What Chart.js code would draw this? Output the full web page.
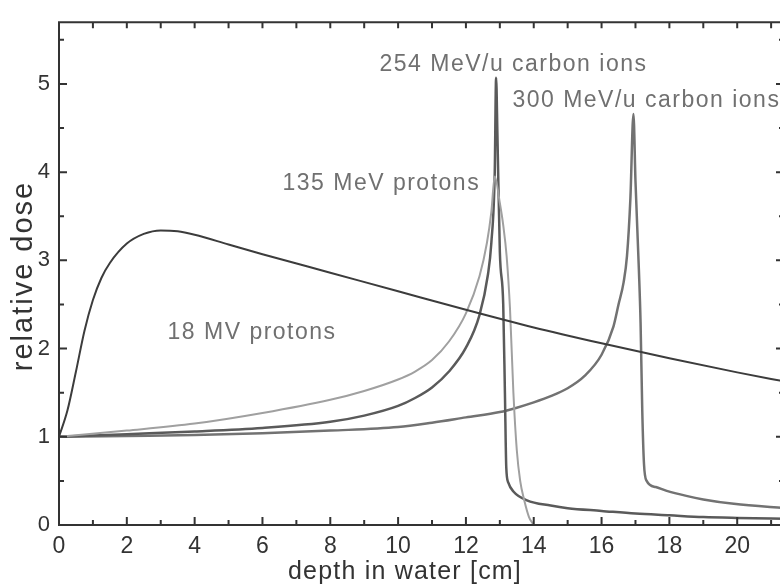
<!DOCTYPE html>
<html>
<head>
<meta charset="utf-8">
<script src="https://cdn.jsdelivr.net/npm/chart.js@4.4.1/dist/chart.umd.min.js"></script>
<style>
  html, body { margin: 0; padding: 0; background: #fff; overflow: hidden; }
  canvas { display: block; }
</style>
</head>
<body>
<canvas id="doseChart" width="786" height="587"></canvas>
<script>
// Profundidad (cm) y dosis relativa
const depthPhoton = [0, 0.25, 0.5, 0.75, 1, 1.25, 1.5, 2, 2.5, 3, 3.5, 4, 5, 6, 8, 10, 12, 14, 16, 18, 20, 21.5];
const dosePhoton  = [1.0, 1.3, 1.74, 2.2, 2.55, 2.8, 2.97, 3.19, 3.3, 3.34, 3.33, 3.29, 3.18, 3.07, 2.86, 2.65, 2.44, 2.24, 2.06, 1.89, 1.73, 1.62];

const depthProton = [0, 2, 4, 6, 8, 9, 10, 10.5, 11, 11.5, 12, 12.4, 12.62, 12.75, 12.85, 13.0, 13.1, 13.2, 13.3, 13.4, 13.5, 13.6, 13.72, 13.86, 14.0];
const doseProton  = [1.0, 1.07, 1.15, 1.27, 1.42, 1.52, 1.65, 1.74, 1.87, 2.08, 2.40, 2.82, 3.2, 3.55, 3.95, 3.65, 3.4, 3.05, 2.45, 1.5, 0.85, 0.5, 0.28, 0.09, 0.0];

const depthC254 = [0, 2, 4, 6, 8, 9, 10, 10.5, 11, 11.5, 12, 12.4, 12.65, 12.75, 12.85, 12.89, 12.93, 13.0, 13.1, 13.15, 13.19, 13.25, 13.4, 13.8, 14.5, 15, 16, 17, 18, 19, 20, 21.5];
const doseC254  = [1.0, 1.03, 1.06, 1.10, 1.17, 1.24, 1.35, 1.44, 1.56, 1.74, 2.01, 2.38, 2.84, 3.2, 4.0, 5.07, 4.4, 3.1, 2.5, 1.5, 0.65, 0.48, 0.38, 0.28, 0.22, 0.19, 0.16, 0.13, 0.11, 0.09, 0.08, 0.07];

const depthC300 = [0, 2, 4, 6, 8, 10, 11, 12, 13, 13.5, 14, 14.5, 15, 15.5, 16, 16.35, 16.5, 16.65, 16.75, 16.85, 16.94, 17.0, 17.1, 17.15, 17.2, 17.25, 17.33, 17.6, 17.9, 18.5, 19, 19.9, 21.5];
const doseC300  = [1.0, 1.01, 1.02, 1.04, 1.07, 1.11, 1.16, 1.22, 1.28, 1.33, 1.39, 1.46, 1.55, 1.69, 1.93, 2.25, 2.5, 2.75, 3.05, 3.7, 4.66, 3.9, 2.9, 2.3, 1.3, 0.7, 0.5, 0.43, 0.39, 0.33, 0.29, 0.24, 0.19];

const seriesNames = ['18 MV protons', '135 MeV protons', '254 MeV/u carbon ions', '300 MeV/u carbon ions'];

// Ticks de los ejes
const xTickValues = [0, 2, 4, 6, 8, 10, 12, 14, 16, 18, 20];
const yTickValues = [0, 1, 2, 3, 4, 5];
const xTitle = 'depth in water [cm]';
const yTitle = 'relative dose';

// Etiquetas de las curvas (posicion en unidades de datos)
const curveLabels = [
  { text: '254 MeV/u carbon ions', x: 9.45, y: 5.22 },
  { text: '300 MeV/u carbon ions', x: 13.37, y: 4.81 },
  { text: '135 MeV protons', x: 6.59, y: 3.87 },
  { text: '18 MV protons', x: 3.2, y: 2.18 }
];

const FONT = '"Liberation Sans", Arial, Helvetica, sans-serif';

function toPoints(xs, ys) {
  return xs.map((x, i) => ({ x: x, y: ys[i] }));
}

// Marco completo y marcas hacia adentro
const frameTicks = {
  id: 'frameTicks',
  afterDatasetsDraw(chart) {
    const { ctx, chartArea: a, scales: { x, y } } = chart;
    ctx.save();
    ctx.strokeStyle = '#333';
    ctx.lineWidth = 2;
    ctx.beginPath();
    ctx.moveTo(a.left, a.top);
    ctx.lineTo(a.right, a.top);
    ctx.lineTo(a.right, a.bottom);
    ctx.lineTo(a.left, a.bottom);
    ctx.closePath();
    for (let v = 0; v <= x.max; v++) {
      const px = x.getPixelForValue(v);
      const len = v % 2 === 0 ? 8 : 5;
      ctx.moveTo(px, a.bottom);
      ctx.lineTo(px, a.bottom - len);
      ctx.moveTo(px, a.top);
      ctx.lineTo(px, a.top + 6);
    }
    for (let v = 0; v <= y.max; v += 0.5) {
      const py = y.getPixelForValue(v);
      const len = Number.isInteger(v) ? 8 : 5;
      ctx.moveTo(a.left, py);
      ctx.lineTo(a.left + len, py);
      ctx.moveTo(a.right, py);
      ctx.lineTo(a.right - len, py);
    }
    ctx.stroke();
    ctx.restore();
  }
};

// Textos de las curvas y titulos de los ejes
const textLayer = {
  id: 'textLayer',
  afterDatasetsDraw(chart) {
    const { ctx, scales: { x, y } } = chart;
    ctx.save();
    ctx.font = '23px ' + FONT;
    ctx.fillStyle = '#707070';
    ctx.textAlign = 'left';
    ctx.textBaseline = 'middle';
    ctx.letterSpacing = '1.5px';
    curveLabels.forEach(l => {
      ctx.fillText(l.text, x.getPixelForValue(l.x), y.getPixelForValue(l.y));
    });

    ctx.fillStyle = '#333';
    ctx.textAlign = 'center';
    ctx.textBaseline = 'alphabetic';
    ctx.font = '25px ' + FONT;
    ctx.letterSpacing = '1.2px';
    ctx.fillText(xTitle, 405, 579);

    ctx.font = '29px ' + FONT;
    ctx.letterSpacing = '2px';
    ctx.translate(32, 276);
    ctx.rotate(-Math.PI / 2);
    ctx.fillText(yTitle, 0, 0);
    ctx.restore();
  }
};

new Chart(document.getElementById('doseChart'), {
  type: 'line',
  data: {
    datasets: [
      { label: seriesNames[0], data: toPoints(depthPhoton, dosePhoton), borderColor: '#3c3c3c', borderWidth: 2 },
      { label: seriesNames[1], data: toPoints(depthProton, doseProton), borderColor: '#a0a0a0', borderWidth: 2 },
      { label: seriesNames[2], data: toPoints(depthC254, doseC254), borderColor: '#5a5a5a', borderWidth: 2.5 },
      { label: seriesNames[3], data: toPoints(depthC300, doseC300), borderColor: '#727272', borderWidth: 2.5 }
    ]
  },
  options: {
    responsive: false,
    animation: false,
    events: [],
    layout: { padding: { left: 0, top: 13, right: 2, bottom: 0 } },
    elements: {
      point: { radius: 0 },
      line: { cubicInterpolationMode: 'monotone', fill: false }
    },
    plugins: {
      legend: { display: false },
      tooltip: { enabled: false }
    },
    scales: {
      x: {
        type: 'linear',
        min: 0,
        max: 21.38,
        grid: { display: false, drawTicks: false },
        border: { display: false },
        afterBuildTicks: s => { s.ticks = xTickValues.map(v => ({ value: v })); },
        afterFit: s => { s.height = 62; },
        ticks: {
          padding: 8,
          color: '#333',
          maxRotation: 0,
          font: { family: FONT, size: 23 }
        }
      },
      y: {
        min: 0,
        max: 5.7,
        grid: { display: false, drawTicks: false },
        border: { display: false },
        afterBuildTicks: s => { s.ticks = yTickValues.map(v => ({ value: v })); },
        afterFit: s => { s.width = 59; },
        ticks: {
          padding: 9,
          color: '#333',
          font: { family: FONT, size: 22 }
        }
      }
    }
  },
  plugins: [frameTicks, textLayer]
});
</script>
</body>
</html>
